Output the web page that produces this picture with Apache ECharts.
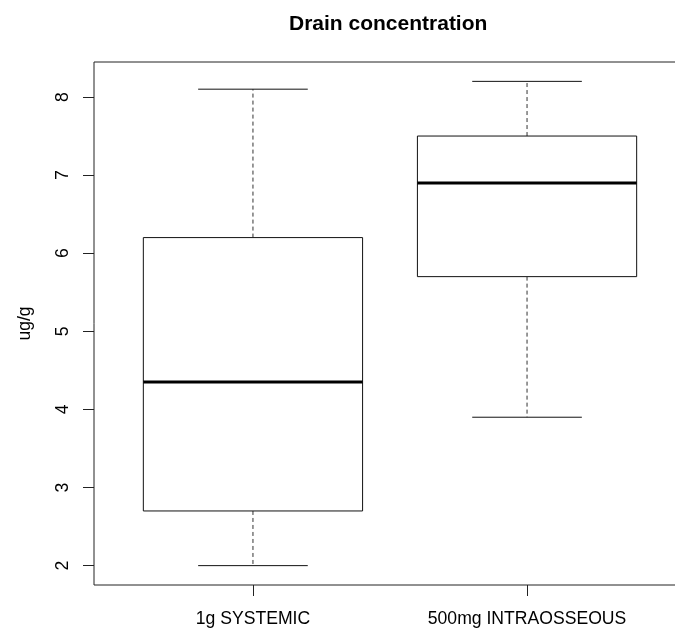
<!DOCTYPE html>
<html>
<head>
<meta charset="utf-8">
<style>
  html, body { margin: 0; padding: 0; background: #ffffff; }
  #chart { width: 675px; height: 630px; }
</style>
<script src="https://cdn.jsdelivr.net/npm/echarts@6/dist/echarts.min.js"></script>
</head>
<body>
<div id="chart"></div>
<script>
// ---- data ----
var categories = ['1g SYSTEMIC', '500mg INTRAOSSEOUS'];
var positions = [1, 2];
var whiskerLow = [2.0, 3.9];
var quartile1 = [2.7, 5.7];
var medians = [4.35, 6.9];
var quartile3 = [6.2, 7.5];
var whiskerHigh = [8.1, 8.2];
var yTicks = [2, 3, 4, 5, 6, 7, 8];
var titleText = 'Drain concentration';
var yName = 'ug/g';

var boxData = positions.map(function (p, i) {
  return [p, whiskerLow[i], quartile1[i], medians[i], quartile3[i], whiskerHigh[i]];
});

var FONT = '"Liberation Sans", Arial, Helvetica, sans-serif';
var chart = echarts.init(document.getElementById('chart'), null, { renderer: 'canvas' });

chart.setOption({
  backgroundColor: '#ffffff',
  animation: false,
  title: {
    text: titleText,
    left: 284,
    top: 9,
    textStyle: { fontFamily: FONT, fontSize: 21, fontWeight: 'bold', color: '#000' }
  },
  grid: {
    left: 94,
    top: 62,
    width: 592,
    height: 523,
    outerBoundsMode: 'none',
    containLabel: false,
    show: true,
    borderColor: '#222',
    borderWidth: 1,
    backgroundColor: 'transparent'
  },
  xAxis: {
    type: 'value',
    min: 0.42,
    max: 2.58,
    axisLine: { show: false },
    splitLine: { show: false },
    axisTick: { show: true, length: 11, customValues: positions, lineStyle: { color: '#222', width: 1 } },
    axisLabel: {
      show: true,
      customValues: positions,
      margin: 25,
      fontFamily: FONT,
      fontSize: 17.6,
      color: '#000',
      formatter: function (v) { return categories[Math.round(v) - 1] || ''; }
    }
  },
  yAxis: {
    type: 'value',
    min: 1.752,
    max: 8.448,
    name: yName,
    nameLocation: 'middle',
    nameGap: 60,
    nameTextStyle: { fontFamily: FONT, fontSize: 17.6, color: '#000' },
    axisLine: { show: false },
    splitLine: { show: false },
    axisTick: { show: true, length: 11, customValues: yTicks, lineStyle: { color: '#222', width: 1 } },
    axisLabel: {
      show: true,
      customValues: yTicks,
      rotate: 90,
      margin: 22,
      fontFamily: FONT,
      fontSize: 17.6,
      color: '#000'
    }
  },
  series: [{
    type: 'custom',
    data: boxData,
    encode: { x: 0, y: [1, 2, 3, 4, 5] },
    renderItem: function (params, api) {
      var x = api.value(0);
      var lo = api.coord([x, api.value(1)]);
      var q1 = api.coord([x, api.value(2)]);
      var md = api.coord([x, api.value(3)]);
      var q3 = api.coord([x, api.value(4)]);
      var hi = api.coord([x, api.value(5)]);
      var bw = api.size([0.8, 0])[0];
      var cw = bw / 2;
      var cx = lo[0];
      var solid = { stroke: '#111', lineWidth: 1, fill: null };
      var dashed = { stroke: '#333', lineWidth: 1, lineDash: [4, 3], fill: null };
      return {
        type: 'group',
        children: [
          { type: 'line', shape: { x1: cx, y1: q3[1], x2: cx, y2: hi[1] }, style: dashed },
          { type: 'line', shape: { x1: cx, y1: q1[1], x2: cx, y2: lo[1] }, style: dashed },
          { type: 'line', shape: { x1: cx - cw / 2, y1: hi[1], x2: cx + cw / 2, y2: hi[1] }, style: solid },
          { type: 'line', shape: { x1: cx - cw / 2, y1: lo[1], x2: cx + cw / 2, y2: lo[1] }, style: solid },
          { type: 'rect', shape: { x: cx - bw / 2, y: q3[1], width: bw, height: q1[1] - q3[1] },
            style: { fill: '#ffffff', stroke: '#111', lineWidth: 1 } },
          { type: 'line', shape: { x1: cx - bw / 2, y1: md[1], x2: cx + bw / 2, y2: md[1] },
            style: { stroke: '#000', lineWidth: 3 } }
        ]
      };
    }
  }]
});
</script>
</body>
</html>
